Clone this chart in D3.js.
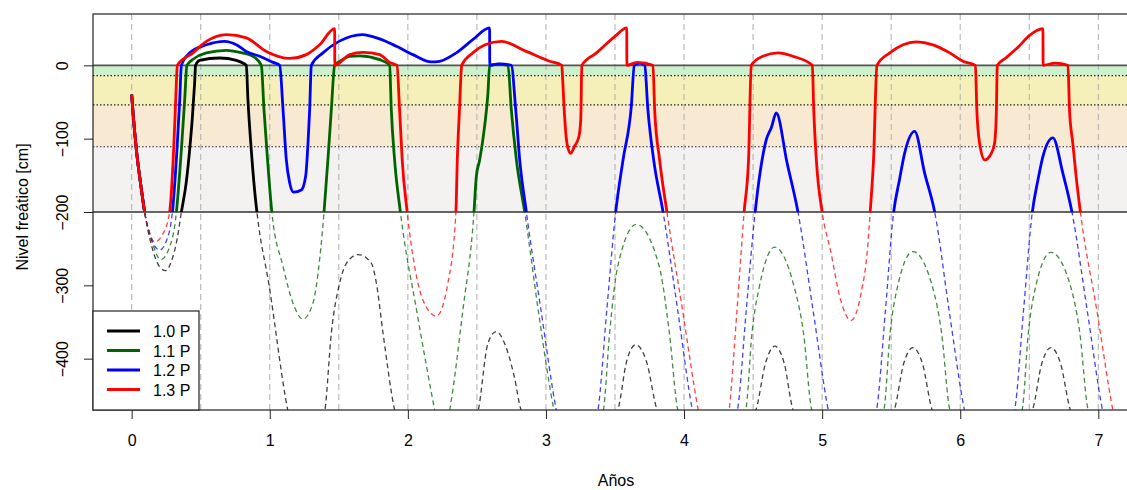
<!DOCTYPE html>
<html>
<head>
<meta charset="utf-8">
<script src="https://cdn.jsdelivr.net/npm/d3@7"></script>
<style>
  body { margin: 0; background: #ffffff; }
  text { font-family: "Liberation Sans", Arial, Helvetica, sans-serif; fill: #000; }
</style>
</head>
<body>
<svg id="chart" width="1127" height="490"></svg>
<script>
// ---- axis ticks and reference levels ----
const yearTicks = [0, 1, 2, 3, 4, 5, 6, 7];
const gridYears = [0, 0.5, 1, 1.5, 2, 2.5, 3, 3.5, 4, 4.5, 5, 5.5, 6, 6.5, 7];
const depthTicks = [0, -100, -200, -300, -400];
const bandTops = [0, -14, -54, -111];
const bandBottoms = [-14, -54, -111, -200];
const bandColors = ["#cdf1cc", "#f5f0ba", "#f8e9d3", "#f3f2f1"];
const dottedLevels = [-14, -54, -111];
const solidLevels = [0, -200];

// ---- series: [years, water table level in cm] ----
const seriesNames = ["1.0 P", "1.1 P", "1.2 P", "1.3 P"];
const seriesColors = ["#000000", "#006400", "#0000ff", "#ff0000"];

const level10 = [
  [0,-40],[0.01,-65],[0.034,-115],[0.071,-170],[0.094,-200],[0.15,-250],[0.2,-274],[0.246,-280],
  [0.29,-266],[0.33,-236],[0.36,-200],[0.395,-160],[0.42,-115],[0.44,-70],[0.456,-24],[0.463,0],
  [0.492,6.8],[0.637,10],[0.758,6.8],[0.83,0],[0.842,-47],[0.866,-115],[0.89,-170],[0.907,-200],
  [0.995,-300],[1.13,-470],[1.27,-560],[1.40,-470],[1.446,-365],[1.506,-297],[1.555,-270],[1.64,-258],
  [1.736,-270],[1.772,-297],[1.82,-365],[1.904,-470],[2.2,-600],[2.51,-470],[2.58,-379],[2.64,-363],
  [2.70,-379],[2.77,-424],[2.82,-470],[3.17,-560],[3.52,-470],[3.585,-403],[3.65,-381],[3.73,-405],
  [3.805,-470],[4.16,-560],[4.52,-470],[4.59,-406],[4.656,-383],[4.725,-406],[4.79,-470],[5.16,-560],
  [5.522,-470],[5.59,-407],[5.657,-385],[5.727,-407],[5.797,-470],[6.16,-560],[6.523,-470],[6.59,-407],
  [6.657,-385],[6.727,-407],[6.798,-470],[7.3,-600]
];

const level11 = [
  [0,-40],[0.01,-65],[0.034,-115],[0.071,-170],[0.094,-200],[0.15,-242],[0.21,-265],[0.27,-250],
  [0.324,-200],[0.36,-115],[0.384,-47],[0.40,0],[0.45,9],[0.541,17],[0.686,20.5],[0.8,17],[0.878,12.3],
  [0.939,0],[0.958,-60],[0.984,-129],[1.015,-200],[1.096,-274],[1.168,-324],[1.24,-346],[1.313,-324],
  [1.361,-265],[1.393,-200],[1.421,-129],[1.446,-60],[1.47,0],[1.52,7],[1.579,12.3],[1.651,13],
  [1.796,7.8],[1.868,0],[1.880,-60],[1.904,-129],[1.946,-200],[2.065,-336],[2.194,-470],[2.245,-520],
  [2.303,-470],[2.399,-333],[2.479,-200],[2.496,-151],[2.52,-129],[2.556,-83],[2.58,-38],[2.592,0],
  [2.66,1.5],[2.725,0],[2.749,-60],[2.786,-129],[2.846,-200],[2.945,-335],[3.058,-470],[3.24,-560],
  [3.416,-470],[3.461,-365],[3.52,-274],[3.655,-217],[3.82,-274],[3.894,-365],[3.955,-470],[4.2,-560],
  [4.447,-470],[4.492,-365],[4.551,-297],[4.656,-248],[4.79,-297],[4.865,-365],[4.925,-470],[5.19,-560],
  [5.447,-470],[5.492,-365],[5.552,-297],[5.657,-254],[5.791,-297],[5.865,-365],[5.925,-470],[6.19,-560],
  [6.448,-470],[6.493,-365],[6.552,-297],[6.657,-255],[6.792,-297],[6.866,-365],[6.926,-470],[7.3,-600]
];

const level12 = [
  [0,-40],[0.01,-65],[0.034,-115],[0.071,-170],[0.094,-200],[0.14,-235],[0.203,-252],[0.25,-240],
  [0.295,-200],[0.328,-115],[0.348,-47],[0.36,0],[0.42,17],[0.541,28],[0.673,32.7],[0.758,28],
  [0.83,19],[0.927,12.3],[1.024,4],[1.072,0],[1.096,-60],[1.12,-129],[1.144,-160],[1.173,-173],
  [1.229,-170],[1.26,-151],[1.277,-106],[1.289,-60],[1.301,0],[1.385,17],[1.505,33],[1.67,42],
  [1.796,36],[1.917,26],[2.037,14.6],[2.17,4.6],[2.23,5.5],[2.351,17],[2.47,35],[2.592,51],[2.593,0],
  [2.66,2],[2.749,0],[2.781,-60],[2.81,-129],[2.858,-200],[2.965,-335],[3.075,-470],[3.23,-560],
  [3.377,-470],[3.44,-335],[3.505,-200],[3.558,-129],[3.618,-56],[3.64,0],[3.68,3],[3.715,0],
  [3.738,-60],[3.78,-129],[3.848,-200],[3.955,-335],[4.06,-470],[4.22,-560],[4.387,-470],[4.45,-335],
  [4.515,-200],[4.547,-151],[4.596,-101],[4.632,-85],[4.668,-65],[4.746,-133],[4.825,-200],[4.935,-335],
  [5.044,-470],[5.22,-560],[5.394,-470],[5.458,-335],[5.518,-200],[5.56,-156],[5.597,-120],[5.67,-90],
  [5.742,-147],[5.815,-200],[5.92,-335],[6.03,-470],[6.21,-560],[6.394,-470],[6.458,-335],[6.522,-200],
  [6.563,-156],[6.599,-124],[6.671,-99],[6.743,-147],[6.809,-200],[6.92,-335],[7.03,-470],[7.3,-600]
];

const level13 = [
  [0,-40],[0.01,-65],[0.034,-115],[0.071,-170],[0.094,-200],[0.13,-228],[0.167,-241],[0.22,-232],
  [0.275,-200],[0.304,-115],[0.319,-47],[0.331,0],[0.444,17],[0.541,32.7],[0.686,42],[0.83,37.4],
  [0.975,19],[1.144,9.5],[1.265,14.6],[1.361,28],[1.47,50],[1.471,0],[1.579,14.6],[1.675,17.8],
  [1.796,14.6],[1.868,4],[1.921,0],[1.94,-60],[1.959,-129],[1.995,-200],[2.049,-274],[2.109,-320],
  [2.206,-342],[2.29,-297],[2.348,-200],[2.358,-129],[2.374,-60],[2.39,0],[2.47,17],[2.56,28],
  [2.677,32.7],[2.858,19],[3.027,5.5],[3.115,0],[3.12,-15],[3.132,-60],[3.152,-106],[3.177,-120],
  [3.208,-110],[3.239,-97],[3.252,-74],[3.26,0],[3.366,17],[3.5,39.6],[3.585,51],[3.586,0],
  [3.66,4],[3.775,0],[3.787,-60],[3.823,-129],[3.876,-200],[3.99,-335],[4.103,-470],[4.22,-560],
  [4.327,-470],[4.383,-335],[4.435,-200],[4.467,-129],[4.487,0],[4.571,12.3],[4.68,17],[4.789,12.3],
  [4.929,0],[4.939,-60],[4.958,-129],[5.0,-200],[5.059,-251],[5.134,-320],[5.208,-348],[5.283,-310],
  [5.328,-251],[5.348,-200],[5.372,-129],[5.397,0],[5.49,17],[5.586,28],[5.68,32],[5.803,28],[5.924,17],
  [6.02,5.5],[6.11,0],[6.12,-60],[6.14,-106],[6.177,-129],[6.225,-120],[6.249,-106],[6.262,-60],[6.268,0],
  [6.33,10],[6.425,26],[6.5,40.5],[6.599,50],[6.6,0],[6.685,3],[6.78,0],[6.791,-60],[6.815,-106],
  [6.839,-151],[6.87,-200],[6.99,-335],[7.105,-470],[7.3,-600]
];

const seriesData = [level10, level11, level12, level13];

// ---- layout ----
const svg = d3.select("#chart");
const plot = { left: 93, top: 14, right: 1137, bottom: 410 };

const x = d3.scaleLinear().domain([-0.28, 7.28]).range([plot.left, plot.right]);
const y = d3.scaleLinear().domain([-470, 70]).range([plot.bottom, plot.top]);

const defs = svg.append("defs");
defs.append("clipPath").attr("id", "clip-all").append("rect")
  .attr("x", plot.left).attr("y", plot.top)
  .attr("width", plot.right - plot.left).attr("height", plot.bottom - plot.top);
defs.append("clipPath").attr("id", "clip-upper").append("rect")
  .attr("x", plot.left).attr("y", plot.top)
  .attr("width", plot.right - plot.left).attr("height", y(-200) - plot.top);
defs.append("clipPath").attr("id", "clip-lower").append("rect")
  .attr("x", plot.left).attr("y", y(-200))
  .attr("width", plot.right - plot.left).attr("height", plot.bottom - y(-200));

const body = svg.append("g").attr("clip-path", "url(#clip-all)");

// depth bands
body.selectAll("rect.band").data(bandTops).join("rect")
  .attr("class", "band")
  .attr("x", plot.left).attr("width", plot.right - plot.left)
  .attr("y", d => y(d))
  .attr("height", (d, i) => y(bandBottoms[i]) - y(d))
  .attr("fill", (d, i) => bandColors[i]);

// half-year grid
body.selectAll("line.grid").data(gridYears).join("line")
  .attr("class", "grid")
  .attr("x1", d => x(d)).attr("x2", d => x(d))
  .attr("y1", plot.top).attr("y2", plot.bottom)
  .attr("stroke", "#b4b4b4").attr("stroke-width", 1.1)
  .attr("stroke-dasharray", "6,4");

// dotted class limits
body.selectAll("line.dotted").data(dottedLevels).join("line")
  .attr("class", "dotted")
  .attr("x1", plot.left).attr("x2", plot.right)
  .attr("y1", d => y(d)).attr("y2", d => y(d))
  .attr("stroke", "#222").attr("stroke-width", 1.2)
  .attr("stroke-dasharray", "1.5,2");

// surface and -200 reference lines
body.selectAll("line.ref").data(solidLevels).join("line")
  .attr("class", "ref")
  .attr("x1", plot.left).attr("x2", plot.right)
  .attr("y1", d => y(d)).attr("y2", d => y(d))
  .attr("stroke", (d, i) => i === 0 ? "#555" : "#333")
  .attr("stroke-width", (d, i) => i === 0 ? 1.8 : 1.4);

const line = d3.line()
  .x(d => x(d[0]))
  .y(d => y(d[1]))
  .curve(d3.curveMonotoneX);

// deep part: thin dashed
const deep = body.append("g").attr("clip-path", "url(#clip-lower)");
deep.selectAll("path").data(seriesData).join("path")
  .attr("d", line)
  .attr("fill", "none")
  .attr("stroke", (d, i) => seriesColors[i])
  .attr("stroke-opacity", 0.75)
  .attr("stroke-width", 1.3)
  .attr("stroke-dasharray", "5,3.5");

// shallow part: thick solid
const shallow = body.append("g").attr("clip-path", "url(#clip-upper)");
shallow.selectAll("path").data(seriesData).join("path")
  .attr("d", line)
  .attr("fill", "none")
  .attr("stroke", (d, i) => seriesColors[i])
  .attr("stroke-width", 2.8)
  .attr("stroke-linejoin", "round");

// plot frame
svg.append("rect")
  .attr("x", plot.left).attr("y", plot.top)
  .attr("width", plot.right - plot.left).attr("height", plot.bottom - plot.top)
  .attr("fill", "none").attr("stroke", "#222").attr("stroke-width", 1.2);

// x axis
const xAxis = svg.append("g")
  .attr("transform", `translate(0,${plot.bottom})`)
  .call(d3.axisBottom(x).tickValues(yearTicks).tickFormat(d3.format("d")).tickSize(9).tickPadding(16));
xAxis.select(".domain").remove();
xAxis.selectAll(".tick line").attr("stroke", "#222");
xAxis.selectAll(".tick text").attr("font-size", 16).attr("fill", "#000")
  .style("font-family", "'Liberation Sans', Arial, sans-serif");

// y axis with rotated labels
const yAxis = svg.append("g")
  .attr("transform", `translate(${plot.left},0)`)
  .call(d3.axisLeft(y).tickValues(depthTicks).tickFormat(d3.format("d")).tickSize(9));
yAxis.select(".domain").remove();
yAxis.selectAll(".tick line").attr("stroke", "#222");
yAxis.selectAll(".tick text")
  .attr("font-size", 16).attr("fill", "#000")
  .style("font-family", "'Liberation Sans', Arial, sans-serif")
  .attr("text-anchor", "middle")
  .attr("dy", null)
  .attr("x", 0).attr("y", -25)
  .attr("transform", "rotate(-90)");

// axis titles
svg.append("text")
  .attr("x", (x(0) + x(7)) / 2 + 1).attr("y", 486)
  .attr("text-anchor", "middle").attr("font-size", 16)
  .text("Años");
svg.append("text")
  .attr("transform", `translate(28,207) rotate(-90)`)
  .attr("text-anchor", "middle").attr("font-size", 16)
  .text("Nivel freático [cm]");

// legend
const legend = svg.append("g");
legend.append("rect")
  .attr("x", plot.left).attr("y", 311)
  .attr("width", 106).attr("height", plot.bottom - 311)
  .attr("fill", "#fff").attr("stroke", "#222").attr("stroke-width", 1.2);
const rows = legend.selectAll("g.row").data(seriesNames).join("g")
  .attr("class", "row")
  .attr("transform", (d, i) => `translate(0,${331 + i * 19.5})`);
rows.append("line")
  .attr("x1", 107).attr("x2", 140).attr("y1", 0).attr("y2", 0)
  .attr("stroke", (d, i) => seriesColors[i]).attr("stroke-width", 2.8);
rows.append("text")
  .attr("x", 153).attr("y", 6).attr("font-size", 16)
  .text(d => d);
</script>
</body>
</html>
